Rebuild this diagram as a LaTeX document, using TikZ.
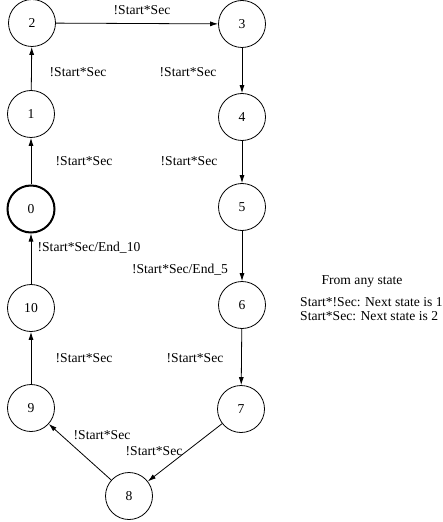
\documentclass[tikz,border=0pt]{standalone}
\usepackage{fontspec}
\setmainfont{Liberation Serif}
\usetikzlibrary{calc, positioning, arrows.meta}

\begin{document}
\begin{tikzpicture}[x=1bp, y=-1bp,
    every node/.style={font=\fontsize{13.6bp}{16bp}\selectfont},
    state/.style={draw, circle, minimum size=47bp, inner sep=0pt, line width=0.8bp},
    init-state/.style={state, line width=2bp},
    trans/.style={-{Latex[length=8bp, width=5bp]}, line width=0.8bp},
    guard/.style={inner sep=0pt}]

  \useasboundingbox (0,0) rectangle (443,522);

  % left column of states
  \node[state]      (state-2)  at (32, 23)  {2};
  \node[state]      (state-1)  at (31, 114) {1};
  \node[init-state] (state-0)  at (31, 209) {0};
  \node[state]      (state-10) at (31, 308) {10};
  \node[state]      (state-9)  at (31, 408) {9};

  % right column of states
  \node[state] (state-3) at (242, 24)  {3};
  \node[state] (state-4) at (242, 117) {4};
  \node[state] (state-5) at (242, 207) {5};
  \node[state] (state-6) at (242, 305) {6};
  \node[state] (state-7) at (241, 409) {7};

  \node[state] (state-8) at (129, 496) {8};

  % transitions
  \draw[trans] (state-0)  to (state-1);
  \draw[trans] (state-1)  to (state-2);
  \draw[trans] (state-2)  to (state-3);
  \draw[trans] (state-3)  to (state-4);
  \draw[trans] (state-4)  to (state-5);
  \draw[trans] (state-5)  to (state-6);
  \draw[trans] (state-6)  to (state-7);
  \draw[trans] (state-7)  to (state-8);
  \draw[trans] (state-8)  to (state-9);
  \draw[trans] (state-9)  to (state-10);
  \draw[trans] (state-10) to (state-0);

  % guards
  \node[guard] (guard-2-3)  at (142, 10)  {!Start*Sec};
  \node[guard] (guard-1-2)  at (78, 72)   {!Start*Sec};
  \node[guard] (guard-3-4)  at (188, 72)  {!Start*Sec};
  \node[guard] (guard-0-1)  at (84, 161)  {!Start*Sec};
  \node[guard] (guard-4-5)  at (189, 161) {!Start*Sec};
  \node[guard] (guard-10-0) at (89, 248)  {!Start*Sec/End\_10};
  \node[guard] (guard-5-6)  at (180, 270) {!Start*Sec/End\_5};
  \node[guard] (guard-9-10) at (84, 358)  {!Start*Sec};
  \node[guard] (guard-6-7)  at (195, 358) {!Start*Sec};
  \node[guard] (guard-8-9)  at (102, 435) {!Start*Sec};
  \node[guard] (guard-7-8)  at (154, 451) {!Start*Sec};

  % reset rules
  \node[guard] (any-state) at (362, 282) {From any state};
  \node[guard, anchor=west] (reset-1) at (300, 302) {Start*!Sec: Next state is 1};
  \node[guard, anchor=west] (reset-2) at (300, 316) {Start*Sec: Next state is 2};

\end{tikzpicture}
\end{document}
